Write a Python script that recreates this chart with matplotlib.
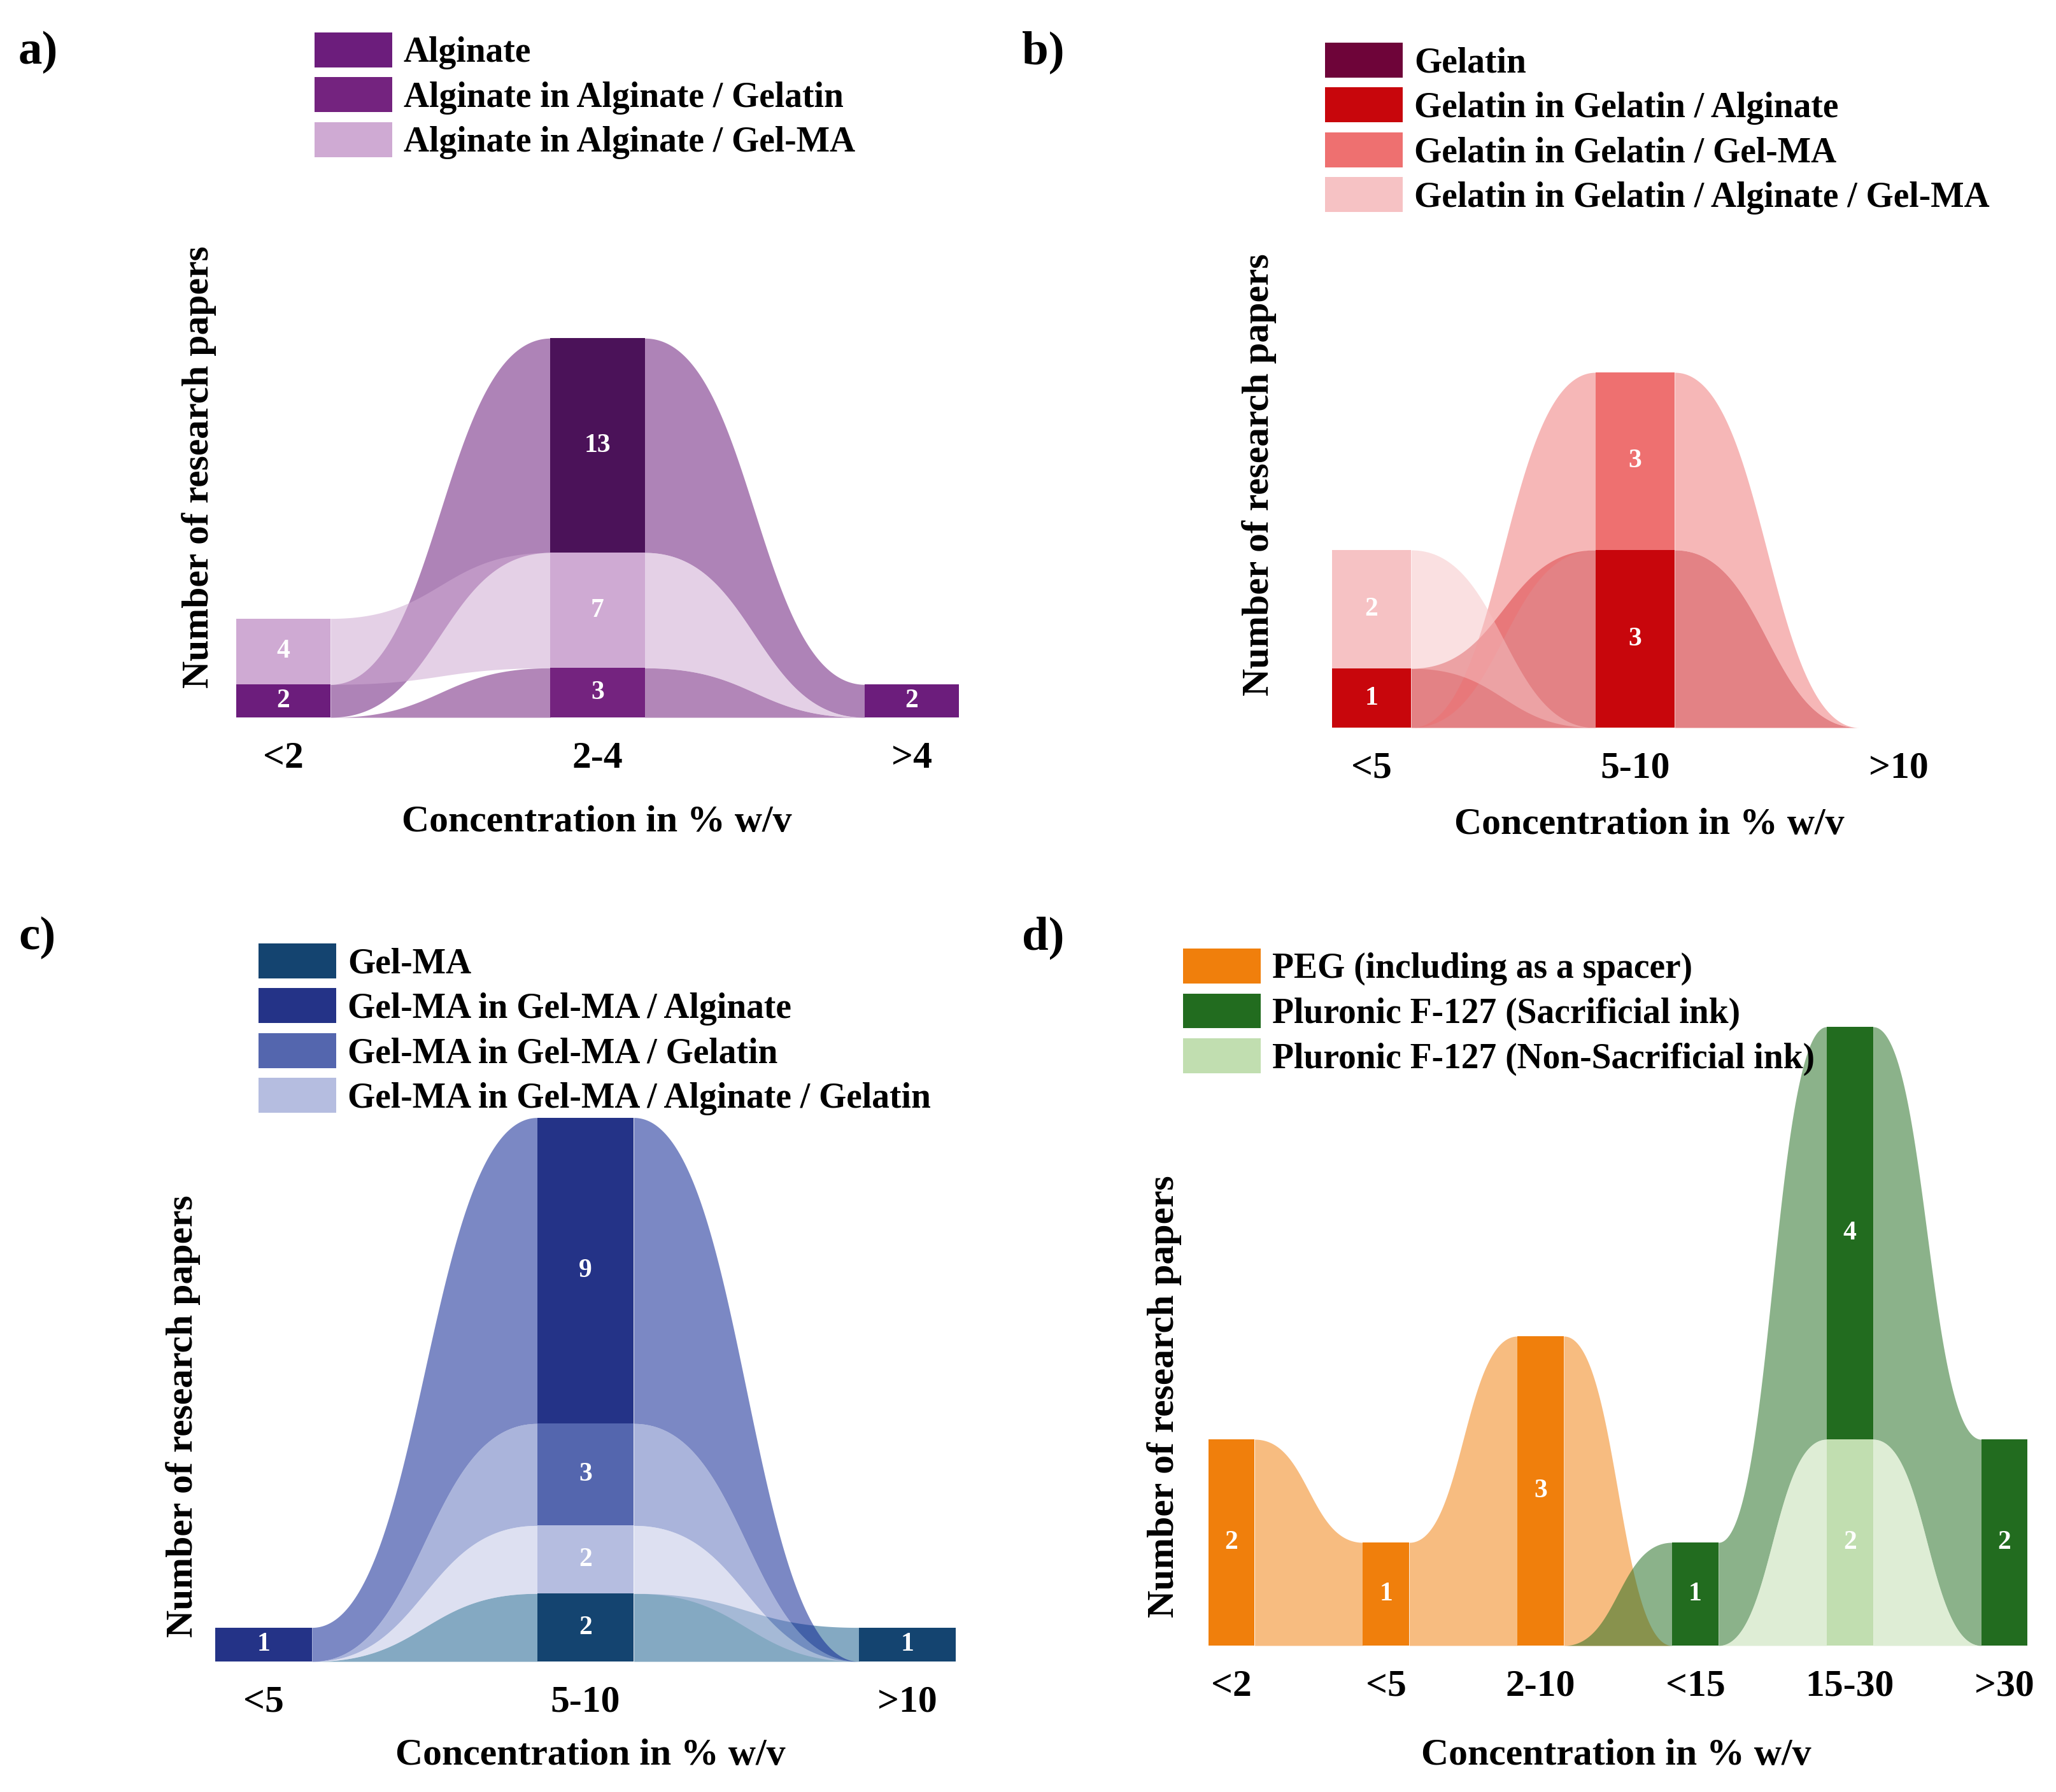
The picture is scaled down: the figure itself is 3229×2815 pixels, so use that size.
import numpy as np
import matplotlib
matplotlib.use("Agg")
import matplotlib.pyplot as plt
import matplotlib.patches as mpatches

plt.rcParams['font.family'] = ['Liberation Serif', 'DejaVu Serif']
plt.rcParams['font.weight'] = 'bold'

W, H = 3230, 2815

# ---- data (number of research papers per concentration range) ----
cats_a = ["<2", "2-4", ">4"]
series_a = ["Alginate", "Alginate in Alginate / Gelatin", "Alginate in Alginate / Gel-MA"]
alginate = [2, 13, 2]
alginate_gelatin = [0, 3, 0]
alginate_gelma = [4, 7, 0]

cats_b = ["<5", "5-10", ">10"]
series_b = ["Gelatin", "Gelatin in Gelatin / Alginate", "Gelatin in Gelatin / Gel-MA",
            "Gelatin in Gelatin / Alginate / Gel-MA"]
gelatin = [0, 0, 0]
gelatin_alginate = [1, 3, 0]
gelatin_gelma = [0, 3, 0]
gelatin_alg_gelma = [2, 0, 0]

cats_c = ["<5", "5-10", ">10"]
series_c = ["Gel-MA", "Gel-MA in Gel-MA / Alginate", "Gel-MA in Gel-MA / Gelatin",
            "Gel-MA in Gel-MA / Alginate / Gelatin"]
gelma = [0, 2, 1]
gelma_alginate = [1, 9, 0]
gelma_gelatin = [0, 3, 0]
gelma_alg_gelatin = [0, 2, 0]

cats_d = ["<2", "<5", "2-10", "<15", "15-30", ">30"]
series_d = ["PEG (including as a spacer)", "Pluronic F-127 (Sacrificial ink)",
            "Pluronic F-127 (Non-Sacrificial ink)"]
peg = [2, 1, 3, 0, 0, 0]
pluronic_sac = [0, 0, 0, 1, 4, 2]
pluronic_nonsac = [0, 0, 0, 0, 2, 0]

# ---- colours ----
colors_a = ['#6c1d7c', '#74237f', '#cfaad3']
colors_b = ['#6e0439', '#c8060c', '#ee7070', '#f6c2c4']
colors_c = ['#144470', '#243387', '#5466ae', '#b5bde0']
colors_d = ['#f07f0c', '#226c1f', '#c1deb0']
flows_c = ['#1f6390', '#0f2794', '#6477bf', '#c1c7e7']

fig = plt.figure(figsize=(W / 100, H / 100), dpi=100)


def px_axes(left, top, right, bottom):
    return fig.add_axes([left / W, 1 - bottom / H, (right - left) / W, (bottom - top) / H])


def draw_panel(cats, names, values, colors, lay, alpha, node_colors=None, flow_colors=None):
    n = len(cats)
    vals = np.array(values, dtype=float)
    nser = len(names)
    if flow_colors is None:
        flow_colors = colors

    # stack series at each category, smallest at the bottom
    bottoms = np.zeros_like(vals)
    for j in range(n):
        order = sorted(range(nser), key=lambda s: (vals[s, j], s))
        acc = 0
        for s in order:
            bottoms[s, j] = acc
            acc += vals[s, j]
    tops = bottoms + vals
    ymax = tops.max()

    sp = lay['spacing']
    left = lay['x0'] - sp / 2
    right = lay['x0'] + sp * (n - 1) + sp / 2
    bottom = lay['base']
    top = bottom - ymax * lay['unit']
    ax = px_axes(left, top, right, bottom)
    ax.set_facecolor('none')
    ax.set_xlim(-0.5, n - 0.5)
    ax.set_ylim(0, ymax)

    # flows between neighbouring categories (bezier with flat ends)
    w = 0.3
    t = np.linspace(0, 1, 300)
    fx = 1.5 * t - 1.5 * t ** 2 + t ** 3
    fy = 3 * t ** 2 - 2 * t ** 3
    for s in range(nser):
        for j in range(n - 1):
            if vals[s, j] == 0 and vals[s, j + 1] == 0:
                continue
            x0, x1 = j + w / 2, j + 1 - w / 2
            xs = x0 + (x1 - x0) * fx
            lo = bottoms[s, j] + (bottoms[s, j + 1] - bottoms[s, j]) * fy
            hi = tops[s, j] + (tops[s, j + 1] - tops[s, j]) * fy
            ax.fill_between(xs, lo, hi, color=flow_colors[s], alpha=alpha, lw=0)

    # nodes
    for s in range(nser):
        for j in range(n):
            v = vals[s, j]
            if v == 0:
                continue
            c = colors[s]
            if node_colors and (s, j) in node_colors:
                c = node_colors[(s, j)]
            ax.bar(j, v, bottom=bottoms[s, j], width=w, color=c, lw=0, zorder=3)
            ax.text(j, bottoms[s, j] + v / 2, f"{int(v)}", ha='center', va='center',
                    color='white', fontsize=30, fontweight='bold', zorder=4)

    for sp_name in ax.spines:
        ax.spines[sp_name].set_visible(False)
    ax.set_yticks([])
    ax.set_xticks(range(n), cats)
    ax.tick_params(axis='x', length=0, pad=27, labelsize=43)

    ax.set_xlabel("Concentration in % w/v", fontsize=43, fontweight='bold')
    ax.xaxis.set_label_coords((lay['xl'][0] - left) / (right - left),
                              -(lay['xl'][1] - bottom) / (bottom - top))
    ax.xaxis.label.set_va('center')
    ax.set_ylabel("Number of research papers", fontsize=43, fontweight='bold')
    ax.yaxis.set_label_coords((lay['yl'][0] - left) / (right - left),
                              (bottom - lay['yl'][1]) / (bottom - top))
    ax.yaxis.label.set_va('center')

    handles = [mpatches.Patch(facecolor=c, lw=0) for c in colors]
    fig.legend(handles, names, loc='upper left',
               bbox_to_anchor=(lay['leg'][0] / W, 1 - lay['leg'][1] / H),
               bbox_transform=fig.transFigure, frameon=False, borderpad=0,
               borderaxespad=0, handlelength=2.2, handleheight=1.14,
               handletextpad=0.32, labelspacing=0.22,
               prop={'size': 40, 'weight': 'bold'})

    fig.text(lay['letter'][0] / W, 1 - lay['letter'][1] / H, lay['tag'],
             fontsize=54, fontweight='bold', ha='left', va='center')
    return ax


lay_a = dict(x0=445, spacing=493.5, base=1127, unit=25.9, xl=(937, 1292), yl=(313, 734),
             leg=(494, 51), letter=(29, 82), tag='a)')
lay_b = dict(x0=2154, spacing=414, base=1143, unit=93, xl=(2590, 1296), yl=(1978, 746),
             leg=(2081, 67), letter=(1605, 82), tag='b)')
lay_c = dict(x0=414, spacing=505.5, base=2610, unit=53.4, xl=(927, 2758), yl=(288, 2225),
             leg=(406, 1482), letter=(29, 1473), tag='c)')
lay_d = dict(x0=1934, spacing=242.8, base=2585, unit=162, xl=(2538, 2758), yl=(1829, 2194),
             leg=(1858, 1490), letter=(1605, 1473), tag='d)')

draw_panel(cats_a, series_a, [alginate, alginate_gelatin, alginate_gelma], colors_a,
           lay_a, 0.55, node_colors={(0, 1): '#4b1259'})
draw_panel(cats_b, series_b, [gelatin, gelatin_alginate, gelatin_gelma, gelatin_alg_gelma],
           colors_b, lay_b, 0.5)
draw_panel(cats_c, series_c, [gelma, gelma_alginate, gelma_gelatin, gelma_alg_gelatin],
           colors_c, lay_c, 0.55, flow_colors=flows_c)
draw_panel(cats_d, series_d, [peg, pluronic_sac, pluronic_nonsac], colors_d, lay_d, 0.52)

fig.savefig("out.png", dpi=100)
